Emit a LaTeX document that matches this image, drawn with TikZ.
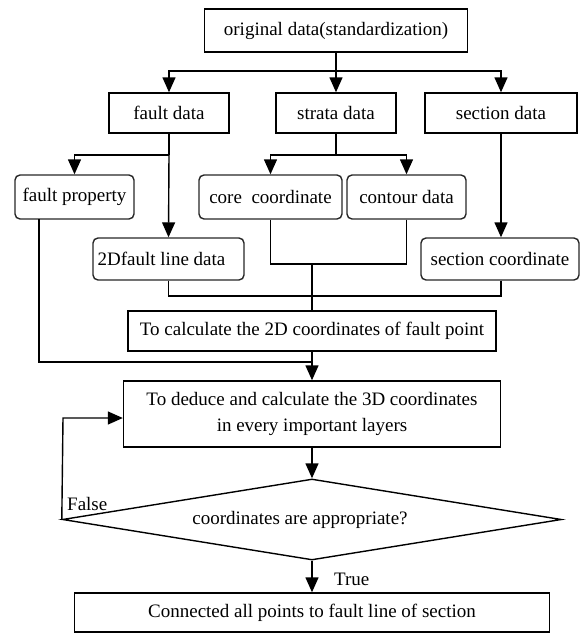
\documentclass[tikz,border=0pt]{standalone}
\usepackage{fontspec}
\setmainfont{Liberation Serif}
\usetikzlibrary{arrows.meta,shapes.geometric}
\begin{document}
\begin{tikzpicture}[x=1pt,y=-1pt,
  every node/.style={font=\fontsize{19}{26}\selectfont},
  box/.style={draw=black,line width=1.4pt,inner sep=0pt,align=center},
  rbox/.style={draw=black!85,line width=1.4pt,rounded corners=5pt,inner sep=0pt,align=center},
  line/.style={draw=black,line width=1.4pt},
  arr/.style={line,-{Triangle[length=15pt,width=13pt]}},
  lbl/.style={inner sep=0pt,anchor=west}]
\useasboundingbox (0,0) rectangle (579,635);
% nodes
\node[box,minimum width=263pt,minimum height=43pt] (top) at (336,30.5) {original data(standardization)};
\node[box,minimum width=120pt,minimum height=40pt] (fd) at (169,113) {fault data};
\node[box,minimum width=120pt,minimum height=40pt] (st) at (336,113) {strata data};
\node[box,minimum width=152pt,minimum height=40pt] (sd) at (501,113) {section data};
\node[rbox,minimum width=119pt,minimum height=44pt] (fp) at (74.5,197) {fault property};
\node[rbox,minimum width=143pt,minimum height=44pt] (cc) at (270.5,197) {core\ \ coordinate};
\node[rbox,minimum width=119pt,minimum height=44pt] (ct) at (406.5,197) {contour data};
\node[rbox,minimum width=151pt,minimum height=42pt] (fl) at (168.5,259) {2Dfault line data\hspace*{14pt}};
\node[rbox,minimum width=158pt,minimum height=42pt] (sc) at (500,259) {section coordinate};
\node[box,minimum width=368pt,minimum height=40pt] (calc) at (312,331) {To calculate the 2D coordinates of fault point};
\node[box,minimum width=377pt,minimum height=66pt] (td) at (312,414) {To deduce and calculate the 3D coordinates\\in every important layers};
\node[draw=black,line width=1.4pt,diamond,shape aspect=6.16,inner sep=0pt,minimum width=499pt,minimum height=81pt] (dia) at (312,519.5) {\hspace*{-24pt}coordinates are appropriate?};
\node[box,minimum width=475pt,minimum height=39pt] (bot) at (312,612.5) {Connected all points to fault line of section};
\node[lbl] (false) at (67,504) {False};
\node[lbl] (true) at (334,579) {True};
% junction coordinates
\coordinate (j1) at (336,71);
\coordinate (j2) at (169,155);
\coordinate (j3) at (336,155);
\coordinate (j4) at (312,264);
\coordinate (j5) at (312,296);
\coordinate (fpb) at (39,219);
\coordinate (j6) at (312,362);
\coordinate (j7) at (63,418);
% connectors
\draw[line] (top.south) -- (j1);
\draw[arr] (j1) -| (fd.north);
\draw[arr] (j1) -- (st.north);
\draw[arr] (j1) -| (sd.north);
\draw[line] (fd.south) -- (j2);
\draw[arr] (j2) -| (fp.north);
\draw[arr] (j2) -- (fl.north);
\draw[line] (st.south) -- (j3);
\draw[arr] (j3) -| (cc.north);
\draw[arr] (j3) -| (ct.north);
\draw[arr] (sd.south) -- (sd.south |- sc.north);
\draw[line] (cc.south) |- (j4);
\draw[line] (ct.south) |- (j4);
\draw[line] (j4) -- (calc.north);
\draw[line] (fl.south) |- (j5);
\draw[line] (sd.south |- sc.south) |- (j5);
\draw[line] (fpb) |- (j6);
\draw[arr] (calc.south) -- (td.north);
\draw[arr] (td.south) -- (dia.north);
\draw[arr] (dia.west) -- (j7) -- (j7 -| td.west);
\draw[arr] (dia.south) -- (bot.north);
\end{tikzpicture}
\end{document}
